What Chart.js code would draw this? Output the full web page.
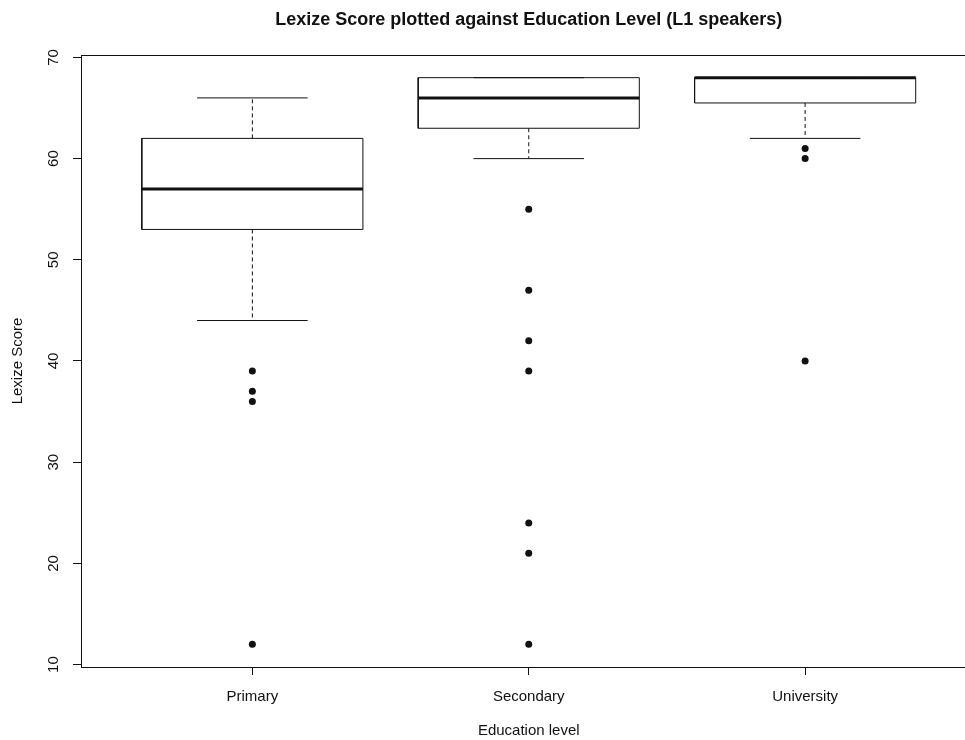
<!DOCTYPE html>
<html>
<head>
<meta charset="utf-8">
<script src="https://cdn.jsdelivr.net/npm/chart.js@4/dist/chart.umd.min.js"></script>
<style>
  html, body { margin: 0; padding: 0; overflow: hidden; background: #fff; }
  #wrap { width: 980px; height: 740px; position: relative; }
</style>
</head>
<body>
<div id="wrap"><canvas id="c"></canvas></div>
<script>
// ---- data ----
const categories = ['Primary', 'Secondary', 'University'];
const lowerWhisker = [44, 60, 62];
const q1Values     = [53, 63, 65.5];
const medians      = [57, 66, 68];
const q3Values     = [62, 68, 68];
const upperWhisker = [66, 68, 68];
const outliers = [
  [39, 37, 36, 12],
  [55, 47, 42, 39, 24, 21, 12],
  [61, 60, 40]
];
const yTicks = [10, 20, 30, 40, 50, 60, 70];
const yMin = 9.76, yMax = 70.24;
const xMin = 0.38, xMax = 3.62;

// ---- build line segments from the data ----
const BOX_HALF = 0.4, CAP_HALF = 0.2;
const gap = (x) => ({ x: x, y: null });
const boxPts = [], medPts = [], whiskPts = [], capPts = [], outPts = [];
categories.forEach((c, i) => {
  const x = i + 1;
  boxPts.push({x: x - BOX_HALF, y: q1Values[i]}, {x: x + BOX_HALF, y: q1Values[i]},
              {x: x + BOX_HALF, y: q3Values[i]}, {x: x - BOX_HALF, y: q3Values[i]},
              {x: x - BOX_HALF, y: q1Values[i]}, gap(x));
  medPts.push({x: x - BOX_HALF, y: medians[i]}, {x: x + BOX_HALF, y: medians[i]}, gap(x));
  whiskPts.push({x: x, y: q3Values[i]}, {x: x, y: upperWhisker[i]}, gap(x),
                {x: x, y: q1Values[i]}, {x: x, y: lowerWhisker[i]}, gap(x));
  capPts.push({x: x - CAP_HALF, y: upperWhisker[i]}, {x: x + CAP_HALF, y: upperWhisker[i]}, gap(x),
              {x: x - CAP_HALF, y: lowerWhisker[i]}, {x: x + CAP_HALF, y: lowerWhisker[i]}, gap(x));
  outliers[i].forEach(v => outPts.push({x: x, y: v}));
});

const INK = '#111';
Chart.defaults.font.family = '"Liberation Sans", Arial, Helvetica, sans-serif';
Chart.defaults.color = INK;

const frame = {
  id: 'frame',
  afterDatasetsDraw(chart) {
    const a = chart.chartArea, ctx = chart.ctx;
    ctx.save();
    ctx.strokeStyle = INK;
    ctx.lineWidth = 1;
    ctx.strokeRect(Math.round(a.left) + 0.5, Math.round(a.top) + 0.5,
                   Math.round(a.right - a.left), Math.round(a.bottom - a.top));
    ctx.restore();
  }
};

const lineDs = (data, width, dash) => ({
  data: data, showLine: true, spanGaps: false, borderColor: INK, backgroundColor: INK,
  borderWidth: width, borderDash: dash || [], pointRadius: 0, pointHoverRadius: 0, fill: false
});

new Chart(document.getElementById('c'), {
  type: 'scatter',
  data: {
    datasets: [
      lineDs(whiskPts, 1, [4, 3]),
      lineDs(capPts, 1),
      lineDs(boxPts, 1),
      lineDs(medPts, 3),
      { data: outPts, showLine: false, pointRadius: 3.5, pointHoverRadius: 3.5,
        backgroundColor: INK, borderColor: INK, borderWidth: 0 }
    ]
  },
  options: {
    responsive: true,
    maintainAspectRatio: false,
    animation: false,
    events: [],
    layout: { padding: 0 },
    plugins: {
      legend: { display: false },
      tooltip: { enabled: false },
      title: {
        display: true,
        fullSize: false,
        text: 'Lexize Score plotted against Education Level (L1 speakers)',
        font: { size: 18, weight: 'bold' },
        color: INK,
        padding: { top: 9.5, bottom: 23.9 }
      }
    },
    scales: {
      x: {
        type: 'linear',
        min: xMin, max: xMax,
        afterBuildTicks: (s) => { s.ticks = categories.map((c, i) => ({ value: i + 1 })); },
        afterFit: (s) => { s.height = 73; },
        ticks: {
          callback: (v) => categories[v - 1] ?? '',
          font: { size: 15 }, color: INK, padding: 13, maxRotation: 0, autoSkip: false
        },
        grid: { drawOnChartArea: false, drawTicks: true, tickLength: 8, tickColor: INK },
        border: { display: true, color: INK },
        title: { display: true, text: 'Education level', font: { size: 15 }, color: INK,
                 padding: { top: 0, bottom: 0 } }
      },
      y: {
        type: 'linear',
        min: yMin, max: yMax,
        afterBuildTicks: (s) => { s.ticks = yTicks.map(v => ({ value: v })); },
        afterFit: (s) => { s.width = 81; },
        ticks: {
          font: { size: 15 }, color: INK, padding: 11,
          minRotation: 90, maxRotation: 90, crossAlign: 'center', autoSkip: false
        },
        grid: { drawOnChartArea: false, drawTicks: true, tickLength: 8, tickColor: INK },
        border: { display: true, color: INK },
        title: { display: true, text: 'Lexize Score', font: { size: 15 }, color: INK,
                 padding: { top: 9, bottom: 0 } }
      }
    }
  },
  plugins: [frame]
});
</script>
</body>
</html>
